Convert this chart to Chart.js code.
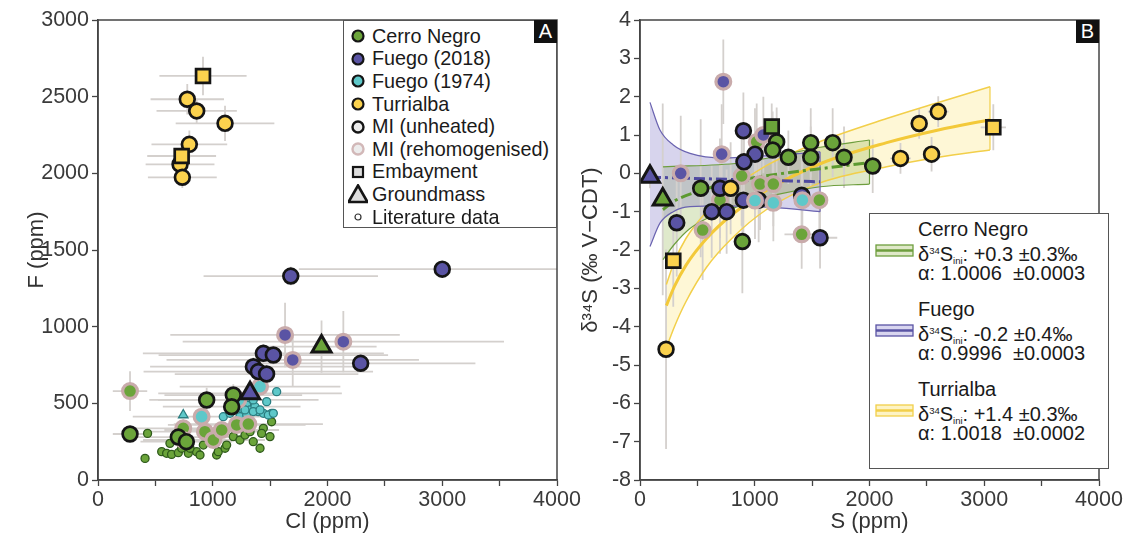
<!DOCTYPE html>
<html>
<head>
<meta charset="utf-8">
<script src="https://cdn.jsdelivr.net/npm/chart.js@4.4.1/dist/chart.umd.min.js"></script>
<style>
  body { margin: 0; background: #fff; font-family: "Liberation Sans", Arial, sans-serif; }
  #wrap { position: relative; width: 1131px; height: 539px; overflow: hidden; }
  canvas { position: absolute; top: 0; }
  #ca { left: 0; }
  #cb { left: 565px; }
  .leg { position: absolute; background: #fff; border: 1.3px solid #555; box-sizing: border-box; color: #1a1a1a; }
  #legA { left: 343px; top: 20px; width: 214px; height: 208px; padding: 4px 0 0 4px; font-size: 19.8px; }
  #legA .row { height: 22.6px; display: flex; align-items: center; white-space: nowrap; }
  #legA svg { width: 20px; height: 20px; margin-right: 4px; flex: none; }
  #legB { left: 869px; top: 213px; width: 240px; height: 256px; font-size: 20px; }
  #legB .t { position: absolute; left: 48px; height: 22px; line-height: 22px; white-space: nowrap; }
  #legB svg { position: absolute; left: 5px; width: 39px; height: 13px; }
  #legB sup { font-size: 9.5px; vertical-align: 7px; }
  #legB sub { font-size: 9.5px; vertical-align: -3px; }
  .tag { position: absolute; width: 23px; height: 23px; background: #111; color: #fff; font-size: 20px; line-height: 23px; text-align: center; }
</style>
</head>
<body>
<div id="wrap">
  <canvas id="ca" width="620" height="539"></canvas>
  <canvas id="cb" width="566" height="539"></canvas>

  <div class="leg" id="legA">
    <div class="row"><svg><circle cx="10" cy="10" r="5.5" fill="#6ba43a" stroke="#151515" stroke-width="2.2"/></svg>Cerro Negro</div>
    <div class="row"><svg><circle cx="10" cy="10" r="5.5" fill="#5a54a4" stroke="#151515" stroke-width="2.2"/></svg>Fuego (2018)</div>
    <div class="row"><svg><circle cx="10" cy="10" r="5.5" fill="#5ec8c9" stroke="#151515" stroke-width="2.2"/></svg>Fuego (1974)</div>
    <div class="row"><svg><circle cx="10" cy="10" r="5.5" fill="#fbd24e" stroke="#151515" stroke-width="2.2"/></svg>Turrialba</div>
    <div class="row"><svg><circle cx="10" cy="10" r="5.5" fill="#ececec" stroke="#151515" stroke-width="2.4"/></svg>MI (unheated)</div>
    <div class="row"><svg><circle cx="10" cy="10" r="5.5" fill="#ececec" stroke="#d2b8b8" stroke-width="2.4"/></svg>MI (rehomogenised)</div>
    <div class="row"><svg><rect x="5" y="5" width="10" height="10" fill="#ddd" stroke="#151515" stroke-width="2.2"/></svg>Embayment</div>
    <div class="row"><svg><polygon points="10,1.5 19.5,18 0.5,18" fill="#ddd" stroke="#151515" stroke-width="2.6" stroke-linejoin="miter"/></svg>Groundmass</div>
    <div class="row"><svg><circle cx="10" cy="10" r="3" fill="#fff" stroke="#333" stroke-width="1.2"/></svg>Literature data</div>
  </div>
  <div class="tag" style="left:534px;top:20px;">A</div>

  <div class="leg" id="legB">
    <div class="t" style="top:4px">Cerro Negro</div>
    <svg style="top:30px"><rect x="1" y="1" width="37" height="11" fill="#dfe8c8" stroke="#6e9e3e" stroke-width="1.3"/><line x1="1" y1="6.5" x2="38" y2="6.5" stroke="#6e9e3e" stroke-width="2.4"/></svg>
    <div class="t" style="top:26px">δ<sup>34</sup>S<sub>ini</sub>: +0.3 ±0.3‰</div>
    <div class="t" style="top:48px">α: 1.0006&nbsp; ±0.0003</div>

    <div class="t" style="top:84px">Fuego</div>
    <svg style="top:110px"><rect x="1" y="1" width="37" height="11" fill="#d8d5ef" stroke="#5a54a4" stroke-width="1.3"/><line x1="1" y1="6.5" x2="38" y2="6.5" stroke="#5a54a4" stroke-width="2.4"/></svg>
    <div class="t" style="top:106px">δ<sup>34</sup>S<sub>ini</sub>: -0.2 ±0.4‰</div>
    <div class="t" style="top:128px">α: 0.9996&nbsp; ±0.0003</div>

    <div class="t" style="top:164px">Turrialba</div>
    <svg style="top:190px"><rect x="1" y="1" width="37" height="11" fill="#fdf3c4" stroke="#f2cf4a" stroke-width="1.3"/><line x1="1" y1="6.5" x2="38" y2="6.5" stroke="#f2cf4a" stroke-width="2.4"/></svg>
    <div class="t" style="top:186px">δ<sup>34</sup>S<sub>ini</sub>: +1.4 ±0.3‰</div>
    <div class="t" style="top:208px">α: 1.0018&nbsp; ±0.0002</div>
  </div>
  <div class="tag" style="left:1076px;top:20px;">B</div>
</div>

<script>
// panel A: [Cl ppm, F ppm, ±Cl, ±F]
var aTurMI = [[778, 2483, 320, 100], [860, 2407, 350, 80], [1107, 2326, 430, 115], [796, 2189, 330, 90], [715, 2059, 300, 80], [735, 1974, 300, 70]];
var aTurEmb = [[915, 2635, 380, 125], [729, 2113, 300, 80]];
var aFueMI = [[1680, 1330, 760, 60], [3000, 1375, 1250, 40], [2289, 761, 1000, 50], [1441, 826, 1050, 60], [1528, 815, 1000, 60], [1354, 739, 900, 60], [1397, 707, 1000, 50], [1469, 691, 800, 60]];
var aFueRe = [[1630, 946, 1000, 210], [1697, 783, 1100, 175], [2138, 902, 1400, 200]];
var aFueGM = [[1325, 565, 800, 60]];
var aCnGM = [[1948, 870, 480, 170]];
var aCnMI = [[279, 300, 150, 40], [947, 522, 500, 80], [1179, 554, 600, 70], [1165, 478, 600, 60], [700, 280, 450, 60], [770, 250, 400, 50]];
var aCnRe = [[279, 580, 150, 130], [743, 337, 450, 60], [743, 261, 350, 50], [932, 315, 500, 60], [1005, 261, 450, 50], [1078, 326, 500, 60], [1209, 359, 600, 60], [1310, 365, 650, 60]];
var aF74Re = [[903, 413, 600, 60], [1222, 522, 700, 60], [1412, 609, 700, 60]];
var aCnLit = [[410, 141], [432, 304], [555, 185], [598, 174], [641, 167], [700, 178], [627, 239], [729, 207], [787, 174], [859, 185], [889, 163], [802, 207], [918, 228], [990, 239], [1004, 283], [1034, 163], [1048, 185], [1107, 207], [1121, 228], [1179, 283], [1237, 261], [1281, 293], [1325, 315], [1353, 250], [1412, 207], [1441, 337], [1513, 380], [1499, 283], [1426, 304]];
var aF74Lit = [[1092, 413], [1150, 435], [1252, 467], [1296, 489], [1325, 457], [1368, 478], [1397, 446], [1441, 435], [1470, 511], [1513, 435], [1557, 576], [1353, 522], [1237, 413], [1296, 424], [1281, 457], [1353, 446], [1412, 457], [1484, 424], [1528, 435]];
var aF74LitGM = [[743, 424]];

// panel B: [S ppm, d34S permil, ±S, ±d34S]
var bCnMI = [[1191, 0.82, 60, 0.9], [1156, 0.61, 60, 1.0], [1293, 0.42, 60, 0.7], [1488, 0.80, 60, 0.9], [1488, 0.42, 60, 0.8], [1679, 0.80, 60, 0.9], [1778, 0.42, 60, 0.8], [2028, 0.19, 60, 0.7], [529, -0.39, 60, 1.8], [892, -1.78, 60, 1.35]];
var bCnRe = [[1017, 0.82, 60, 1.0], [886, -0.07, 60, 1.3], [1046, -0.28, 60, 1.2], [1162, -0.28, 60, 1.1], [697, -0.70, 60, 1.4], [1563, -0.70, 60, 1.0], [546, -1.48, 60, 1.3], [1409, -1.59, 150, 0.9]];
var bCnEmb = [[1148, 1.22, 60, 0.6]];
var bCnGM = [[198, -0.68, 60, 2.5]];
var bFuMI = [[901, 1.11, 60, 1.0], [1002, 0.50, 60, 1.2], [906, 0.30, 60, 1.0], [697, -0.39, 60, 1.3], [901, -0.70, 60, 1.2], [1034, -0.70, 60, 1.1], [625, -1.0, 60, 1.2], [755, -1.0, 60, 1.1], [320, -1.29, 60, 1.4], [1569, -1.68, 150, 0.8], [1409, -0.57, 60, 1.0]];
var bFuRe = [[726, 2.39, 60, 1.1], [1075, 1.0, 60, 1.0], [712, 0.50, 60, 1.3], [355, 0.0, 60, 1.5]];
var bFuGM = [[87, -0.09, 40, 0.3]];
var bF74Re = [[1002, -0.71, 60, 1.0], [1162, -0.77, 60, 1.0], [1415, -0.70, 60, 1.0]];
var bTuMI = [[790, -0.39, 60, 1.2], [2270, 0.39, 90, 0.4], [2541, 0.50, 60, 0.45], [2433, 1.30, 60, 0.4], [2599, 1.61, 90, 0.4], [227, -4.59, 40, 2.6]];
var bTuEmb = [[290, -2.28, 60, 1.2], [3079, 1.20, 110, 0.6]];

// fit envelopes: [S, d34S]
var bFuUp = [[87, 1.85], [174, 1.13], [290, 0.74], [436, 0.52], [726, 0.40], [1162, 0.47], [1569, 0.56]];
var bFuMid = [[87, -0.10], [800, -0.16], [1569, -0.22]];
var bFuLo = [[87, -1.91], [174, -1.30], [290, -1.0], [436, -0.87], [726, -0.85], [1162, -0.89], [1569, -1.0]];
var bCnUp = [[200, 0.17], [870, 0.27], [1200, 0.45], [1570, 0.68], [2000, 0.87]];
var bCnMid = [[200, -0.95], [300, -0.72], [530, -0.45], [870, -0.18], [1200, -0.02], [1570, 0.12], [2000, 0.28]];
var bCnLo = [[200, -2.25], [300, -1.85], [430, -1.45], [600, -1.15], [870, -0.85], [1200, -0.55], [1570, -0.35], [2000, -0.28]];
var bTuUp = [[230, -2.9], [300, -2.3], [400, -1.7], [580, -1.0], [800, -0.4], [1100, 0.2], [1570, 0.83], [2150, 1.43], [2600, 1.85], [3050, 2.26]];
var bTuMid = [[230, -3.45], [300, -2.95], [400, -2.4], [580, -1.7], [800, -1.08], [1100, -0.45], [1570, 0.25], [2150, 0.8], [2600, 1.13], [3050, 1.4]];
var bTuLo = [[230, -4.55], [300, -4.0], [400, -3.35], [580, -2.45], [800, -1.7], [1100, -0.95], [1570, -0.25], [2150, 0.17], [2600, 0.42], [3050, 0.61]];

var GREEN = "#6ba43a", PURPLE = "#5a54a4", CYAN = "#5ec8c9", YELLOW = "#fbd24e";
var FONT = "'Liberation Sans', Arial, sans-serif";

function pts(arr) {
  return arr.map(function (p) { return { x: p[0], y: p[1], xe: p[2], ye: p[3] }; });
}

// marker styles
var MI = { pointStyle: "circle", pointRadius: 7.4, pointBorderColor: "#151515", pointBorderWidth: 2.7 };
var RE = { pointStyle: "circle", pointRadius: 7.4, pointBorderColor: "#c9abab", pointBorderWidth: 3.2 };
var EMB = { pointStyle: "rect", pointRadius: 9.8, pointBorderColor: "#151515", pointBorderWidth: 2.7 };
var GM = { pointStyle: "triangle", pointRadius: 11, pointBorderColor: "#151515", pointBorderWidth: 3 };

function marks(arr, style, fill, order) {
  return Object.assign({ data: pts(arr), errors: true, pointBackgroundColor: fill, pointHoverRadius: style.pointRadius, order: order }, style);
}
function lit(arr, fill, edge, shape, r) {
  return { data: pts(arr), pointStyle: shape, pointRadius: r, pointBackgroundColor: fill, pointBorderColor: edge, pointBorderWidth: 1.3, order: 6 };
}
function curve(arr, color, width, dash, order, fill, bg) {
  return {
    type: "line", data: pts(arr), showLine: true, pointRadius: 0, borderColor: color, borderWidth: width,
    borderDash: dash || [], cubicInterpolationMode: "monotone", fill: fill || false,
    backgroundColor: bg || "transparent", order: order
  };
}
function edge(up, lo, color) {
  return { type: "line", data: pts([up[up.length - 1], lo[lo.length - 1]]), showLine: true, pointRadius: 0, borderColor: color, borderWidth: 1.2, fill: false, order: 9 };
}

// grey error bars, drawn after band fills and before markers
var errorBars = {
  id: "errorBars",
  beforeDatasetsDraw: function (chart) {
    var ctx = chart.ctx, a = chart.chartArea, x = chart.scales.x, y = chart.scales.y;
    ctx.save();
    ctx.beginPath();
    ctx.rect(a.left, a.top, a.width, a.height);
    ctx.clip();
    ctx.strokeStyle = "#d4d0cd";
    ctx.lineWidth = 1.8;
    chart.data.datasets.forEach(function (ds) {
      if (!ds.errors) return;
      ds.data.forEach(function (p) {
        ctx.beginPath();
        if (p.xe) {
          ctx.moveTo(x.getPixelForValue(p.x - p.xe), y.getPixelForValue(p.y));
          ctx.lineTo(x.getPixelForValue(p.x + p.xe), y.getPixelForValue(p.y));
        }
        if (p.ye) {
          ctx.moveTo(x.getPixelForValue(p.x), y.getPixelForValue(p.y - p.ye));
          ctx.lineTo(x.getPixelForValue(p.x), y.getPixelForValue(p.y + p.ye));
        }
        ctx.stroke();
      });
    });
    ctx.restore();
  }
};

// box round the plot area
var frame = {
  id: "frame",
  afterDatasetsDraw: function (chart) {
    var a = chart.chartArea, c = chart.ctx;
    c.save();
    c.strokeStyle = "#444";
    c.lineWidth = 1.5;
    c.strokeRect(a.left, a.top, a.width, a.height);
    c.restore();
  }
};

function xAxis(min, max, title) {
  return {
    type: "linear", min: min, max: max,
    ticks: { stepSize: 500, autoSkip: false, padding: 1, color: "#3a3a3a", font: { family: FONT, size: 21.5 },
      callback: function (v) { return v % 1000 === 0 ? String(v) : ""; } },
    grid: { drawOnChartArea: false, drawTicks: true, tickLength: 6, tickColor: "#444", tickWidth: 1.3 },
    border: { color: "#444", width: 1.5 },
    title: { display: true, text: title, color: "#333", font: { family: FONT, size: 22 }, padding: { top: 0, bottom: 4 } },
    afterFit: function (s) { s.height = 59; s.paddingLeft = 0; s.paddingRight = 0; }
  };
}
function yAxis(min, max, step, title, width, pad) {
  return {
    type: "linear", min: min, max: max,
    ticks: { stepSize: step, autoSkip: false, padding: 3, color: "#3a3a3a", font: { family: FONT, size: 21.5 },
      callback: function (v) { return String(v); } },
    grid: { drawOnChartArea: false, drawTicks: true, tickLength: 6, tickColor: "#444", tickWidth: 1.3 },
    border: { color: "#444", width: 1.5 },
    title: { display: true, text: title, color: "#333", font: { family: FONT, size: 22 }, padding: { top: pad, bottom: 0 } },
    afterFit: function (s) { s.width = width; s.paddingTop = 0; s.paddingBottom = 0; }
  };
}

// panel A: F vs Cl
new Chart(document.getElementById("ca"), {
  type: "scatter",
  data: {
    datasets: [
      marks(aCnGM, GM, GREEN, 1),
      marks(aFueGM, GM, PURPLE, 1),
      marks(aTurEmb, EMB, YELLOW, 2),
      marks(aTurMI, MI, YELLOW, 2),
      marks(aFueMI, MI, PURPLE, 2),
      marks(aCnMI, MI, GREEN, 3),
      marks(aFueRe, RE, PURPLE, 3),
      marks(aF74Re, RE, CYAN, 3),
      marks(aCnRe, RE, GREEN, 3),
      lit(aF74LitGM, CYAN, "#2b7d80", "triangle", 5.5),
      lit(aF74Lit, CYAN, "#2b7d80", "circle", 4),
      lit(aCnLit, GREEN, "#2f5a1c", "circle", 4)
    ]
  },
  options: {
    responsive: false,
    animation: false,
    layout: { padding: { left: 0, top: 20, right: 63, bottom: 0 } },
    plugins: { legend: { display: false }, tooltip: { enabled: false } },
    scales: {
      x: xAxis(0, 4000, "Cl (ppm)"),
      y: yAxis(0, 3000, 500, "F (ppm)", 98, 24)
    }
  },
  plugins: [errorBars, frame]
});

// panel B: d34S vs S with Rayleigh fit envelopes
new Chart(document.getElementById("cb"), {
  type: "scatter",
  data: {
    datasets: [
      curve(bFuUp, "#6a63b0", 1.2, null, 10, "+1", "rgba(110,100,190,0.28)"),
      curve(bFuLo, "#6a63b0", 1.2, null, 10),
      curve(bCnUp, "#6e9e3e", 1.2, null, 10, "+1", "rgba(140,175,70,0.28)"),
      curve(bCnLo, "#6e9e3e", 1.2, null, 10),
      curve(bTuUp, "#f2cf4a", 1.5, null, 10, "+1", "rgba(250,225,90,0.25)"),
      curve(bTuLo, "#f2cf4a", 1.5, null, 10),
      edge(bFuUp, bFuLo, "#6a63b0"),
      edge(bCnUp, bCnLo, "#6e9e3e"),
      edge(bTuUp, bTuLo, "#f2cf4a"),
      curve(bFuMid, "#4f49a0", 3, [11, 4, 3, 4], 8),
      curve(bCnMid, "#5d9a30", 3, [11, 4, 3, 4], 8),
      curve(bTuMid, "#f3c939", 3, null, 8),
      marks(bCnGM, GM, GREEN, 1),
      marks(bFuGM, GM, PURPLE, 1),
      marks(bCnEmb, EMB, GREEN, 2),
      marks(bTuEmb, EMB, YELLOW, 2),
      marks(bTuMI, MI, YELLOW, 2),
      marks(bF74Re, RE, CYAN, 2),
      marks(bCnMI, MI, GREEN, 3),
      marks(bFuMI, MI, PURPLE, 3),
      marks(bFuRe, RE, PURPLE, 3),
      marks(bCnRe, RE, GREEN, 3)
    ]
  },
  options: {
    responsive: false,
    animation: false,
    layout: { padding: { left: 0, top: 20, right: 32, bottom: 0 } },
    plugins: { legend: { display: false }, tooltip: { enabled: false }, filler: { drawTime: "beforeDatasetsDraw" } },
    scales: {
      x: xAxis(0, 4000, "S (ppm)"),
      y: yAxis(-8, 4, 1, "δ³⁴S (‰ V−CDT)", 75, 13)
    }
  },
  plugins: [errorBars, frame]
});
</script>
</body>
</html>
